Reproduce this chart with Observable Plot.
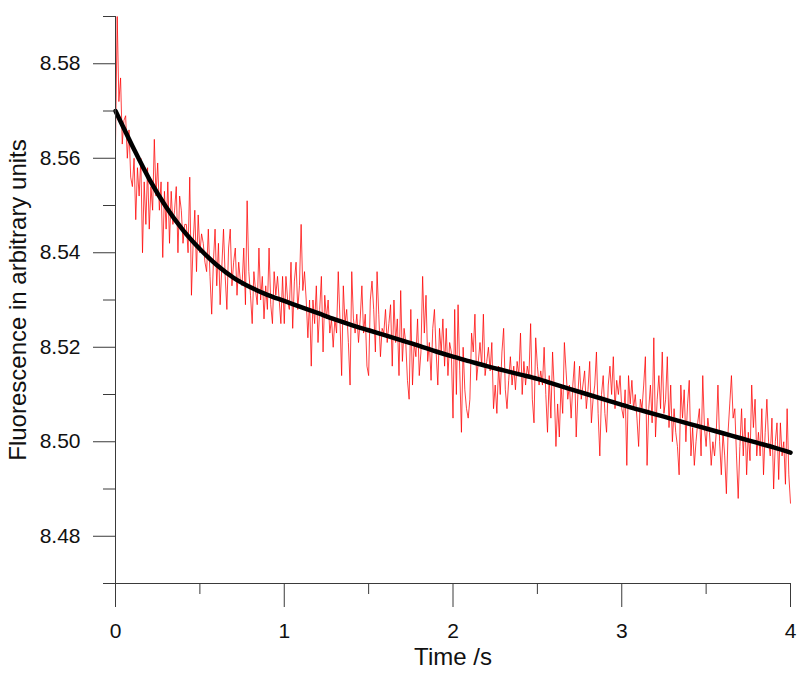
<!DOCTYPE html>
<html>
<head>
<meta charset="utf-8">
<script src="https://cdn.jsdelivr.net/npm/d3@7"></script>
<script src="https://cdn.jsdelivr.net/npm/@observablehq/plot@0.6"></script>
<style>
  html, body { margin: 0; padding: 0; background: #fff; }
</style>
</head>
<body>
<div id="chart"></div>
<script>
// Measured fluorescence, sampled every 0.01 s from 0 to 4 s
const timeStep = 0.01;
const fluorescence = [
  8.563, 8.590, 8.572, 8.577, 8.563, 8.568, 8.569, 8.560, 8.566, 8.556,
  8.554, 8.560, 8.547, 8.558, 8.552, 8.560, 8.540, 8.555, 8.546, 8.558,
  8.545, 8.554, 8.549, 8.564, 8.552, 8.559, 8.549, 8.555, 8.539, 8.553,
  8.545, 8.555, 8.542, 8.553, 8.546, 8.549, 8.554, 8.540, 8.552, 8.549,
  8.542, 8.546, 8.546, 8.540, 8.556, 8.531, 8.542, 8.549, 8.536, 8.548,
  8.540, 8.544, 8.542, 8.538, 8.536, 8.545, 8.535, 8.527, 8.538, 8.545,
  8.533, 8.542, 8.529, 8.537, 8.545, 8.535, 8.528, 8.541, 8.545, 8.533,
  8.538, 8.541, 8.531, 8.538, 8.534, 8.533, 8.541, 8.529, 8.551, 8.536,
  8.531, 8.525, 8.536, 8.532, 8.529, 8.541, 8.530, 8.535, 8.526, 8.533,
  8.528, 8.541, 8.529, 8.525, 8.536, 8.531, 8.535, 8.530, 8.525, 8.535,
  8.525, 8.535, 8.530, 8.528, 8.538, 8.524, 8.534, 8.538, 8.528, 8.533,
  8.546, 8.532, 8.536, 8.530, 8.522, 8.530, 8.516, 8.530, 8.525, 8.533,
  8.521, 8.528, 8.535, 8.519, 8.531, 8.526, 8.530, 8.523, 8.526, 8.520,
  8.526, 8.523, 8.536, 8.526, 8.514, 8.533, 8.525, 8.528, 8.521, 8.512,
  8.536, 8.526, 8.523, 8.527, 8.521, 8.526, 8.533, 8.523, 8.527, 8.516,
  8.514, 8.530, 8.534, 8.528, 8.519, 8.536, 8.527, 8.518, 8.524, 8.523,
  8.528, 8.521, 8.525, 8.529, 8.516, 8.530, 8.521, 8.526, 8.514, 8.532,
  8.517, 8.524, 8.521, 8.513, 8.509, 8.528, 8.512, 8.521, 8.518, 8.526,
  8.514, 8.519, 8.535, 8.523, 8.531, 8.517, 8.521, 8.513, 8.524, 8.528,
  8.519, 8.512, 8.524, 8.519, 8.526, 8.516, 8.524, 8.514, 8.521, 8.519,
  8.505, 8.528, 8.510, 8.529, 8.515, 8.502, 8.520, 8.511, 8.507, 8.505,
  8.509, 8.523, 8.519, 8.527, 8.513, 8.517, 8.521, 8.516, 8.527, 8.514,
  8.517, 8.520, 8.515, 8.521, 8.507, 8.512, 8.506, 8.516, 8.510, 8.519,
  8.524, 8.511, 8.507, 8.513, 8.518, 8.512, 8.516, 8.511, 8.517, 8.514,
  8.523, 8.510, 8.517, 8.512, 8.516, 8.514, 8.525, 8.509, 8.504, 8.522,
  8.516, 8.512, 8.515, 8.512, 8.520, 8.510, 8.502, 8.514, 8.505, 8.519,
  8.511, 8.499, 8.508, 8.501, 8.512, 8.506, 8.521, 8.515, 8.509, 8.512,
  8.505, 8.512, 8.517, 8.501, 8.510, 8.516, 8.509, 8.512, 8.515, 8.507,
  8.511, 8.517, 8.504, 8.509, 8.512, 8.519, 8.506, 8.497, 8.510, 8.514,
  8.506, 8.502, 8.512, 8.516, 8.510, 8.518, 8.507, 8.513, 8.510, 8.514,
  8.507, 8.505, 8.511, 8.495, 8.514, 8.508, 8.513, 8.507, 8.510, 8.505,
  8.499, 8.509, 8.507, 8.512, 8.518, 8.495, 8.507, 8.512, 8.504, 8.522,
  8.501, 8.509, 8.514, 8.507, 8.519, 8.506, 8.509, 8.518, 8.503, 8.512,
  8.500, 8.507, 8.502, 8.499, 8.493, 8.512, 8.505, 8.511, 8.500, 8.508,
  8.513, 8.497, 8.503, 8.495, 8.500, 8.504, 8.507, 8.497, 8.514, 8.503,
  8.499, 8.505, 8.502, 8.495, 8.500, 8.497, 8.502, 8.512, 8.500, 8.493,
  8.502, 8.497, 8.489, 8.502, 8.508, 8.514, 8.505, 8.507, 8.497, 8.488,
  8.499, 8.507, 8.497, 8.505, 8.493, 8.502, 8.496, 8.512, 8.503, 8.509,
  8.497, 8.502, 8.497, 8.507, 8.493, 8.502, 8.509, 8.500, 8.497, 8.505,
  8.490, 8.500, 8.504, 8.492, 8.504, 8.497, 8.500, 8.491, 8.507, 8.493,
  8.487
];

// Fitted curve
const fitTimes = [0, 0.1, 0.2, 0.3, 0.4, 0.5, 0.6, 0.7, 0.8, 0.9, 1.0,
  1.1, 1.2, 1.3, 1.4, 1.5, 1.6, 1.7, 1.8, 1.9, 2.0,
  2.1, 2.2, 2.3, 2.4, 2.5, 2.6, 2.7, 2.8, 2.9, 3.0,
  3.1, 3.2, 3.3, 3.4, 3.5, 3.6, 3.7, 3.8, 3.9, 4.0];
const fitValues = [8.5700, 8.5626, 8.5556, 8.5497, 8.5448, 8.5408, 8.5374, 8.5347, 8.5327, 8.5311, 8.5298,
  8.5285, 8.5272, 8.5259, 8.5247, 8.5236, 8.5225, 8.5214, 8.5203, 8.5191, 8.5180,
  8.5170, 8.5160, 8.5151, 8.5142, 8.5133, 8.5122, 8.5111, 8.5100, 8.5089, 8.5078,
  8.5068, 8.5058, 8.5048, 8.5038, 8.5028, 8.5018, 8.5008, 8.4998, 8.4988, 8.4977];

// Axis ticks
const xMajorTicks = [0, 1, 2, 3, 4];
const xMinorTicks = [0.5, 1.5, 2.5, 3.5];
const yMajorTicks = [8.48, 8.50, 8.52, 8.54, 8.56, 8.58];
const yMinorTicks = [8.47, 8.49, 8.51, 8.53, 8.55, 8.57, 8.59];
const xTitle = "Time /s";
const yTitle = "Fluorescence in arbitrary units";

const measured = fluorescence.map((v, i) => ({t: i * timeStep, v}));
const fit = fitTimes.map((t, i) => ({t, v: fitValues[i]}));

const axisColor = "#3a3a3a";

const chart = Plot.plot({
  width: 800,
  height: 680,
  marginLeft: 115,
  marginRight: 10,
  marginTop: 16,
  marginBottom: 97,
  style: {
    fontFamily: "'Liberation Sans', Arial, sans-serif",
    fontSize: "21px",
    color: "#111",
    background: "#fff",
    overflow: "visible"
  },
  x: {domain: [0, 4]},
  y: {domain: [8.47, 8.59]},
  marks: [
    Plot.line(measured, {x: "t", y: "v", stroke: "#ff0000", strokeWidth: 0.75}),
    Plot.line(fit, {x: "t", y: "v", stroke: "#000", strokeWidth: 4.5, curve: "monotone-x"}),
    Plot.ruleX([0], {stroke: axisColor, strokeWidth: 1}),
    Plot.ruleY([8.47], {stroke: axisColor, strokeWidth: 1}),
    Plot.axisY(yMajorTicks, {tickSize: 22, tickPadding: 13, fontSize: 21, tickFormat: d3.format(".2f"), label: null, stroke: axisColor, fill: "#111"}),
    Plot.axisY(yMinorTicks, {tickSize: 12, tickFormat: () => "", label: null, stroke: axisColor}),
    Plot.axisX(xMajorTicks, {tickSize: 24, tickPadding: 16, fontSize: 21, tickFormat: d3.format("d"), label: null, stroke: axisColor, fill: "#111"}),
    Plot.axisX(xMinorTicks, {tickSize: 11, tickFormat: () => "", label: null, stroke: axisColor}),
    Plot.text([xTitle], {frameAnchor: "bottom", dy: 74, lineAnchor: "middle", textAnchor: "middle", fontSize: 24, fill: "#111"}),
    Plot.text([yTitle], {frameAnchor: "left", dx: -97, rotate: -90, lineAnchor: "middle", textAnchor: "middle", fontSize: 24, fill: "#111"})
  ]
});

document.getElementById("chart").appendChild(chart);
</script>
</body>
</html>
